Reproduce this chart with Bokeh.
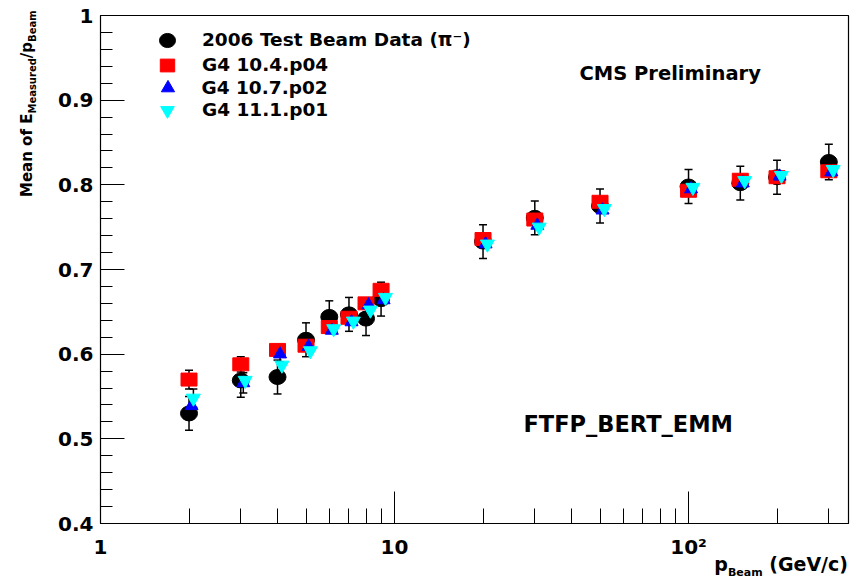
from bokeh.plotting import figure
from bokeh.models import (Range1d, FixedTicker, Label, Legend, LegendItem,
                          ColumnDataSource, Div)
from bokeh.layouts import row, column
from bokeh.embed import file_html
from bokeh.resources import INLINE

# Beam momenta (GeV/c) and mean response E_measured / p_beam
p_beam = [2, 3, 4, 5, 6, 7, 8, 9, 20, 30, 50, 100, 150, 200, 300]

data_mean = [0.530, 0.569, 0.573, 0.617, 0.644, 0.647, 0.642, 0.665,
             0.733, 0.761, 0.775, 0.798, 0.802, 0.809, 0.827]
data_err = [0.020, 0.020, 0.020, 0.020, 0.019, 0.020, 0.020, 0.020,
            0.020, 0.020, 0.020, 0.020, 0.020, 0.020, 0.021]

g4_10_4 = [0.570, 0.588, 0.605, 0.610, 0.632, 0.643, 0.660, 0.676,
           0.736, 0.759, 0.780, 0.793, 0.806, 0.809, 0.816]
g4_10_4_err = [0.011, 0.009, 0.004, 0, 0, 0, 0, 0, 0, 0, 0, 0, 0, 0, 0]

g4_10_7 = [0.539, 0.566, 0.600, 0.609, 0.628, 0.638, 0.658, 0.664,
           0.730, 0.752, 0.770, 0.795, 0.802, 0.810, 0.815]
g4_10_7_err = [0, 0.012, 0.009, 0, 0, 0, 0, 0, 0, 0, 0, 0, 0, 0, 0]

g4_11_1 = [0.548, 0.569, 0.587, 0.604, 0.630, 0.639, 0.652, 0.667,
           0.730, 0.750, 0.772, 0.797, 0.805, 0.811, 0.818]
g4_11_1_err = [0.011, 0, 0, 0, 0, 0, 0, 0, 0, 0, 0, 0, 0, 0, 0]

series_names = ["2006 Test Beam Data (\u03c0\u207b)", "G4 10.4.p04", "G4 10.7.p02", "G4 11.1.p01"]

x_major = [1, 10, 100]
x_major_labels = ["1", "10", "10\u00b2"]
x_minor = [2, 3, 4, 5, 6, 7, 8, 9, 20, 30, 40, 50, 60, 70, 80, 90, 200, 300]
y_major = [0.4, 0.5, 0.6, 0.7, 0.8, 0.9, 1.0]
y_major_labels = ["0.4", "0.5", "0.6", "0.7", "0.8", "0.9", "1"]
y_minor = [round(0.4 + 0.02 * i, 2) for i in range(31)]

FONT = "DejaVu Sans"

p = figure(width=811, height=561, x_axis_type="log",
           x_range=Range1d(1, 350), y_range=Range1d(0.4, 1.0),
           output_backend="svg", toolbar_location=None,
           min_border_left=60, min_border_right=3,
           min_border_top=15, min_border_bottom=38, margin=0)
p.xgrid.visible = False
p.ygrid.visible = False
p.outline_line_color = "black"
p.outline_line_width = 1.2
p.background_fill_color = "white"
p.border_fill_color = "white"

# simulation points are nudged slightly right so the markers stay readable
shift = {"blue": 1.02, "cyan": 1.035}


def bars(xs, ys, errs, factor=1.0):
    pts = [(x * factor, y, e) for x, y, e in zip(xs, ys, errs) if e > 0]
    src = ColumnDataSource(dict(
        x=[t[0] for t in pts],
        lo=[t[1] - t[2] for t in pts],
        hi=[t[1] + t[2] for t in pts]))
    p.segment(x0="x", y0="lo", x1="x", y1="hi", source=src,
              line_color="black", line_width=1.5)
    p.scatter(x="x", y="lo", source=src, marker="dash", size=8,
              line_color="black", line_width=1.5)
    p.scatter(x="x", y="hi", source=src, marker="dash", size=8,
              line_color="black", line_width=1.5)


bars(p_beam, data_mean, data_err)
bars(p_beam, g4_10_4, g4_10_4_err)
bars(p_beam, g4_10_7, g4_10_7_err, shift["blue"])
bars(p_beam, g4_11_1, g4_11_1_err, shift["cyan"])

r_data = p.ellipse(x=p_beam, y=data_mean, width=17, height=15,
                   width_units="screen", height_units="screen",
                   fill_color="black", line_color="black")
r_104 = p.rect(x=p_beam, y=g4_10_4, width=16, height=13,
               width_units="screen", height_units="screen",
               fill_color="#ff0000", line_color="#ff0000")
r_107 = p.scatter(x=[x * shift["blue"] for x in p_beam], y=g4_10_7,
                  marker="triangle", size=13,
                  fill_color="#0000ff", line_color="#0000ff")
r_111 = p.scatter(x=[x * shift["cyan"] for x in p_beam], y=g4_11_1,
                  marker="inverted_triangle", size=14,
                  fill_color="#00ffff", line_color="#00ffff")

# axes
xa = p.xaxis[0]
xa.ticker = FixedTicker(ticks=x_major, minor_ticks=x_minor)
xa.major_label_overrides = dict(zip(x_major, x_major_labels))
ya = p.yaxis[0]
ya.ticker = FixedTicker(ticks=y_major, minor_ticks=y_minor)
ya.major_label_overrides = dict(zip(y_major, y_major_labels))

for ax in (xa, ya):
    ax.axis_line_color = "black"
    ax.major_tick_line_color = "black"
    ax.minor_tick_line_color = "black"
    ax.major_tick_out = 0
    ax.minor_tick_out = 0
    ax.major_label_text_font = FONT
    ax.major_label_text_font_style = "bold"
    ax.major_label_text_font_size = "20px"
    ax.major_label_text_color = "black"
xa.major_tick_in = 32
xa.minor_tick_in = 15
ya.major_tick_in = 24
ya.minor_tick_in = 12
xa.major_label_standoff = 11
ya.major_label_standoff = 7

# legend: one entry per box so each marker gets its own glyph size
legend_rows = [
    # renderer, glyph w, glyph h, location, label standoff
    (r_data, 20, 22, (57, 472.5), 25),
    (r_104, 18, 16, (58, 448), 26),
    (r_107, 33, 33, (50.5, 419.5), 18),
    (r_111, 34, 34, (50, 396.5), 18),
]
for name, (rend, gw, gh, loc, stand) in zip(series_names, legend_rows):
    lg = Legend(items=[LegendItem(label=name, renderers=[rend])],
                location=loc, orientation="vertical",
                glyph_width=gw, glyph_height=gh, label_height=gh,
                label_standoff=stand, spacing=0, padding=0, margin=0,
                background_fill_alpha=0, border_line_alpha=0,
                label_text_font=FONT, label_text_font_style="bold",
                label_text_font_size="18.5px", label_text_color="black")
    p.add_layout(lg, "center")


def label(text, x, y, size):
    p.add_layout(Label(x=x, y=y, x_units="screen", y_units="screen",
                       text=text, text_align="left",
                       text_baseline="middle", text_font=FONT,
                       text_font_style="bold", text_font_size=size,
                       text_color="black"))


label("CMS Preliminary", 479, 450, "19.5px")
label("FTFP_BERT_EMM", 423, 100, "22.5px")

# axis titles with subscripts, set as HTML beside and below the plot
base = ("font-family:'DejaVu Sans';font-weight:bold;color:black;"
        "white-space:nowrap;position:absolute;")
sub_y = "font-size:10px;vertical-align:-4px;"
sub_x = "font-size:11px;vertical-align:-5px;"

y_title = Div(width=40, height=561, margin=0, text=(
    '<div style="position:relative;width:40px;height:561px;">'
    f'<div style="{base}left:19px;top:197px;font-size:15px;line-height:17px;'
    'transform:rotate(-90deg);transform-origin:0 0;">'
    f'Mean of E<sub style="{sub_y}">Measured</sub>/p<sub style="{sub_y}">Beam</sub>'
    '</div></div>'))

x_title = Div(width=851, height=19, margin=0, styles={"overflow": "visible"}, text=(
    '<div style="position:relative;width:851px;height:19px;overflow:visible;">'
    f'<div style="{base}right:3px;top:-6px;font-size:19px;line-height:19px;">'
    f'p<sub style="{sub_x}">Beam</sub> (GeV/c)'
    '</div></div>'))

layout = column(row(y_title, p, spacing=0, margin=0), x_title, spacing=0, margin=0)

open("out.html", "w").write(file_html(layout, INLINE))
